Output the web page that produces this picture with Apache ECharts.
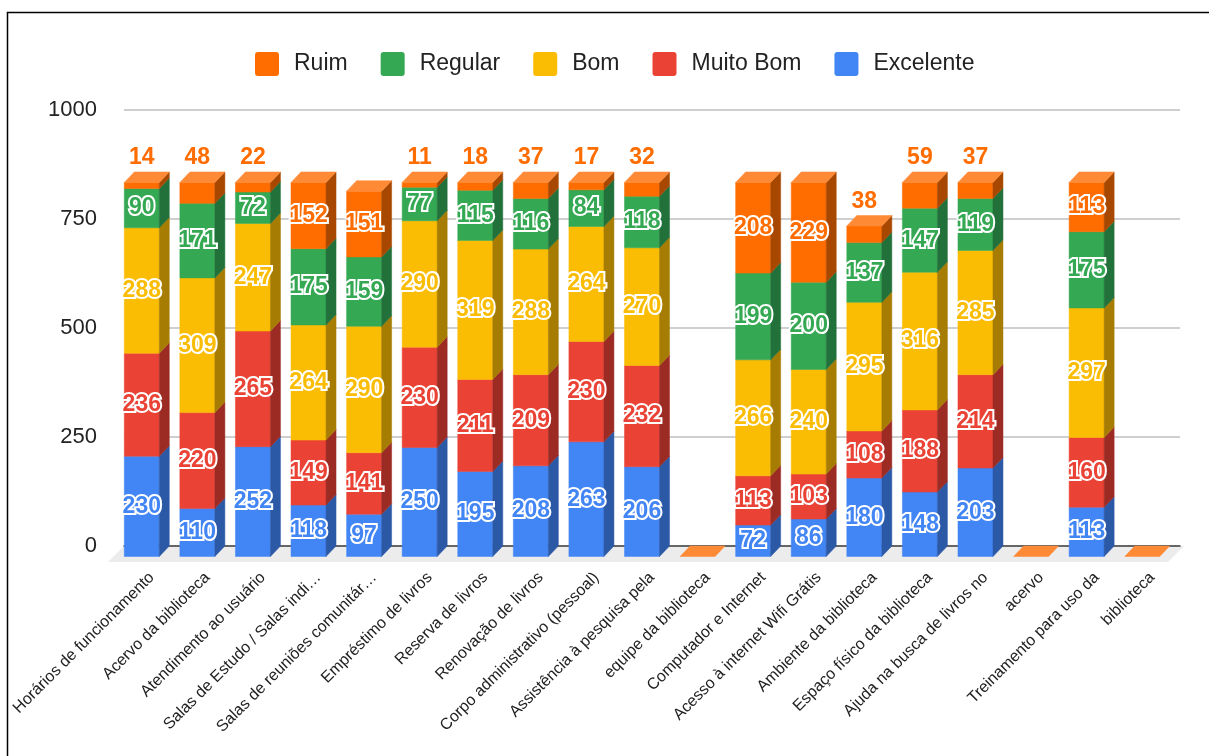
<!DOCTYPE html>
<html>
<head>
<meta charset="utf-8">
<script src="https://cdn.jsdelivr.net/npm/echarts@6/dist/echarts.min.js"></script>
<style>
  html, body { margin: 0; padding: 0; background: #fff; }
  #chart { width: 1209px; height: 756px; }
</style>
</head>
<body>
<div id="chart"></div>
<script>
// Categories (survey items) on the x axis
const categories = [
  'Horários de funcionamento',
  'Acervo da biblioteca',
  'Atendimento ao usuário',
  'Salas de Estudo / Salas indi…',
  'Salas de reuniões comunitár…',
  'Empréstimo de livros',
  'Reserva de livros',
  'Renovação de livros',
  'Corpo administrativo (pessoal)',
  'Assistência à pesquisa pela',
  'equipe da biblioteca',
  'Computador e Internet',
  'Acesso à internet Wifi Grátis',
  'Ambiente da biblioteca',
  'Espaço físico da biblioteca',
  'Ajuda na busca de livros no',
  'acervo',
  'Treinamento para uso da',
  'biblioteca'
];

// Answer counts per rating (null = no answers for that row)
const excelente = [230, 110, 252, 118, 97, 250, 195, 208, 263, 206, null, 72, 86, 180, 148, 203, null, 113, null];
const muitoBom  = [236, 220, 265, 149, 141, 230, 211, 209, 230, 232, null, 113, 103, 108, 188, 214, null, 160, null];
const bom       = [288, 309, 247, 264, 290, 290, 319, 288, 264, 270, null, 266, 240, 295, 316, 285, null, 297, null];
const regular   = [90, 171, 72, 175, 159, 77, 115, 116, 84, 118, null, 199, 200, 137, 147, 119, null, 175, null];
const ruim      = [14, 48, 22, 152, 151, 11, 18, 37, 17, 32, null, 208, 229, 38, 59, 37, null, 113, null];

const yTicks = [0, 250, 500, 750, 1000];

// Stack order, bottom to top
const layers = [
  { name: 'Excelente', values: excelente, color: '#4285F4', side: '#2C59A6' },
  { name: 'Muito Bom', values: muitoBom,  color: '#EA4335', side: '#9C2B24' },
  { name: 'Bom',       values: bom,       color: '#FBBC04', side: '#A67C02' },
  { name: 'Regular',   values: regular,   color: '#34A853', side: '#22703A' },
  { name: 'Ruim',      values: ruim,      color: '#FF6D01', side: '#A84800', cap: '#FF8A36' }
];

// 3D extrusion of the bars (front face is shifted left/down from the back plane)
const DX = 10, DY = 10.5, BAR_RATIO = 0.63;
const FONT = '"Liberation Sans", Arial, sans-serif';
const SQUARE_ICON = 'path://M3,0 L21,0 Q24,0 24,3 L24,21 Q24,24 21,24 L3,24 Q0,24 0,21 L0,3 Q0,0 3,0 Z';

// cumulative bases for stacking
const bases = layers.map(() => []);
categories.forEach((c, i) => {
  let acc = 0;
  layers.forEach((l, k) => { bases[k][i] = acc; acc += (l.values[i] || 0); });
});

function makeRender(layer, isTop) {
  return function (params, api) {
    const idx = api.value(0);
    const val = api.value(1);
    const base = api.value(2);
    const pb = api.coord([idx, base]);
    const pt = api.coord([idx, base + val]);
    const bw = api.size([1, 0])[0] * BAR_RATIO;
    const x0 = pb[0] - bw / 2 - DX, x1 = x0 + bw;
    const yb = pb[1] + DY, yt = pt[1] + DY;
    const children = [];
    if (val > 0) {
      children.push({
        type: 'rect', shape: { x: x0, y: yt, width: bw, height: yb - yt },
        style: { fill: layer.color, stroke: layer.color, lineWidth: 0.5 }, z2: 1
      });
      children.push({
        type: 'polygon', shape: { points: [[x1, yt], [x1, yb], [x1 + DX, yb - DY], [x1 + DX, yt - DY]] },
        style: { fill: layer.side, stroke: layer.side, lineWidth: 0.5 }, z2: 1
      });
    }
    if (isTop) {
      children.push({
        type: 'polygon', shape: { points: [[x0, yt], [x1, yt], [x1 + DX, yt - DY], [x0 + DX, yt - DY]] },
        style: { fill: layer.cap, stroke: layer.cap, lineWidth: 0.5 }, z2: 1
      });
    }
    if (val > 0) {
      let ly = (yt + yb) / 2;
      if (isTop && yb - yt < 30) ly = yt - DY - 14;
      children.push({
        type: 'text', z2: 100,
        style: {
          text: String(val), x: (x0 + x1) / 2, y: ly,
          align: 'center', verticalAlign: 'middle',
          font: 'bold 23px ' + FONT,
          fill: layer.color, stroke: '#fff', lineWidth: 4
        }
      });
    }
    return { type: 'group', children };
  };
}

const series = layers.map((l, k) => ({
  name: l.name,
  type: 'custom',
  coordinateSystem: 'cartesian2d',
  itemStyle: { color: l.color },
  encode: { x: 0, y: 1 },
  renderItem: makeRender(l, k === layers.length - 1),
  data: categories.map((c, i) => [i, l.values[i] || 0, bases[k][i]]),
  silent: true
}));

const chart = echarts.init(document.getElementById('chart'), null, { renderer: 'canvas' });

const option = {
  animation: false,
  backgroundColor: '#fff',
  legend: {
    data: ['Ruim', 'Regular', 'Bom', 'Muito Bom', 'Excelente'],
    left: 250, top: 47,
    itemWidth: 24, itemHeight: 24, itemGap: 33,
    icon: SQUARE_ICON,
    textStyle: { fontFamily: FONT, fontSize: 23, color: '#222', padding: [0, 0, 0, 10] }
  },
  grid: { left: 124, right: 29, top: 110, bottom: 210, containLabel: false },
  xAxis: {
    type: 'category',
    data: categories,
    boundaryGap: true,
    axisTick: { show: false },
    axisLine: { show: true, lineStyle: { color: '#444', width: 1.5 } },
    axisLabel: {
      interval: 0, rotate: 45, margin: 29,
      fontFamily: FONT, fontSize: 16, color: '#222'
    },
    splitLine: { show: false }
  },
  yAxis: {
    type: 'value',
    min: yTicks[0], max: yTicks[yTicks.length - 1], interval: yTicks[1] - yTicks[0],
    axisLine: { show: false },
    axisTick: { show: false },
    axisLabel: { margin: 27, fontFamily: FONT, fontSize: 22, color: '#222', formatter: v => String(v) },
    splitLine: { lineStyle: { color: '#cfcfcf', width: 2 } }
  },
  series
};
chart.setOption(option);

// Floor under the bars and the outer frame
const p0 = chart.convertToPixel({ xAxisIndex: 0, yAxisIndex: 0 }, [0, 0]);
const p1 = chart.convertToPixel({ xAxisIndex: 0, yAxisIndex: 0 }, [1, 0]);
const pn = chart.convertToPixel({ xAxisIndex: 0, yAxisIndex: 0 }, [categories.length - 1, 0]);
const cw = p1[0] - p0[0];
const left = p0[0] - cw / 2, right = pn[0] + cw / 2, y0 = p0[1];
const F = 16;
chart.setOption({
  graphic: [
    {
      type: 'polygon', z: -1, silent: true,
      shape: { points: [[left, y0], [right + 4, y0], [right + 4 - F, y0 + F], [left - F, y0 + F]] },
      style: { fill: '#ececec' }
    },
    {
      type: 'rect', silent: true,
      shape: { x: 7.5, y: 12.5, width: 1300, height: 900 },
      style: { fill: 'none', stroke: '#000', lineWidth: 1.5 }
    }
  ]
});
</script>
</body>
</html>
